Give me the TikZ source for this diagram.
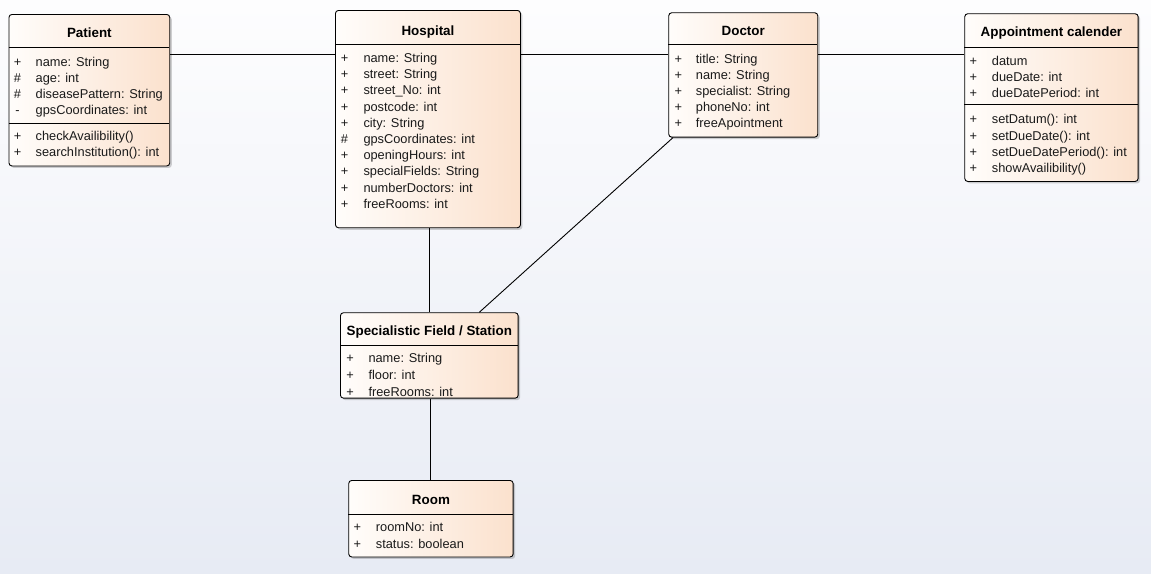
\documentclass[tikz,border=0pt]{standalone}
\usepackage{fontspec}
\setmainfont{Liberation Sans}
\usetikzlibrary{shadows}

\definecolor{bgtop}{HTML}{FDFDFE}
\definecolor{bgbot}{HTML}{E7EBF4}
\definecolor{peach}{HTML}{FBE1CD}
\definecolor{peachlight}{HTML}{FFFDFB}
\definecolor{ink}{HTML}{1A1A1A}

\tikzset{
  classbox/.style={draw=black, line width=0.9pt, rounded corners=3pt,
    left color=peachlight, right color=peach, inner sep=0pt, anchor=north west,
    drop shadow={shadow xshift=2pt, shadow yshift=-2pt, opacity=0.3, fill=black!60}},
  classtitle/.style={font=\fontsize{13.4}{15}\selectfont\bfseries, text=black, anchor=base, inner sep=0pt},
  visib/.style={font=\fontsize{12.8}{15}\selectfont, text=ink, anchor=base, inner sep=0pt, yshift=-0.6pt},
  member/.style={font=\fontsize{12.8}{15}\selectfont, text=ink, anchor=base west, inner sep=0pt, yshift=-0.6pt},
  compartment/.style={line width=0.9pt, draw=black},
  assoc/.style={line width=0.9pt, draw=black},
}

% one attribute or operation line: name, visibility x, text x, baseline, visibility, text
\newcommand{\classmember}[6]{%
  \node[visib] (#1-v) at (#2,#4) {#5};
  \node[member] (#1) at (#3,#4) {#6};}

\begin{document}
\begin{tikzpicture}[x=1pt,y=-1pt]
  % background
  \shade[top color=bgtop, bottom color=bgbot] (0,0) rectangle (1151,573);
  \useasboundingbox (0,0) rectangle (1151,573);

  % ---------- Patient ----------
  \node[classbox, minimum width=160.8pt, minimum height=151.5pt] (patient) at (8.5,14) {};
  \node[classtitle] (patient-title) at (patient.north |- 0,37.5) {Patient};
  \draw[compartment] (8.5,47.7) -- (169.3,47.7);
  \draw[compartment] (8.5,123.3) -- (169.3,123.3);
  \classmember{pa1}{17.5}{35.5}{65.7}{+}{name: String}
  \classmember{pa2}{17.5}{35.5}{81.7}{\#}{age: int}
  \classmember{pa3}{17.5}{35.5}{97.6}{\#}{diseasePattern: String}
  \classmember{pa4}{17.5}{35.5}{113.6}{-}{gpsCoordinates: int}
  \classmember{pm1}{17.5}{35.5}{140}{+}{checkAvailibility()}
  \classmember{pm2}{17.5}{35.5}{156}{+}{searchInstitution(): int}

  % ---------- Hospital ----------
  \node[classbox, minimum width=185pt, minimum height=217.3pt] (hospital) at (335,10) {};
  \node[classtitle] (hospital-title) at (hospital.north |- 0,35) {Hospital};
  \draw[compartment] (335,44.3) -- (520,44.3);
  \classmember{ha1}{344.5}{363.3}{61.7}{+}{name: String}
  \classmember{ha2}{344.5}{363.3}{77.9}{+}{street: String}
  \classmember{ha3}{344.5}{363.3}{94.1}{+}{street\_No: int}
  \classmember{ha4}{344.5}{363.3}{110.4}{+}{postcode: int}
  \classmember{ha5}{344.5}{363.3}{126.6}{+}{city: String}
  \classmember{ha6}{344.5}{363.3}{142.8}{\#}{gpsCoordinates: int}
  \classmember{ha7}{344.5}{363.3}{159.0}{+}{openingHours: int}
  \classmember{ha8}{344.5}{363.3}{175.2}{+}{specialFields: String}
  \classmember{ha9}{344.5}{363.3}{191.5}{+}{numberDoctors: int}
  \classmember{ha10}{344.5}{363.3}{207.7}{+}{freeRooms: int}

  % ---------- Doctor ----------
  \node[classbox, minimum width=149pt, minimum height=124.4pt] (doctor) at (668.3,12.3) {};
  \node[classtitle] (doctor-title) at (doctor.north |- 0,35.7) {Doctor};
  \draw[compartment] (668.3,44.3) -- (817.3,44.3);
  \classmember{da1}{678.3}{695.7}{62.4}{+}{title: String}
  \classmember{da2}{678.3}{695.7}{78.5}{+}{name: String}
  \classmember{da3}{678.3}{695.7}{94.6}{+}{specialist: String}
  \classmember{da4}{678.3}{695.7}{110.6}{+}{phoneNo: int}
  \classmember{da5}{678.3}{695.7}{126.7}{+}{freeApointment}

  % ---------- Appointment calender ----------
  \node[classbox, minimum width=173.4pt, minimum height=167.7pt] (calendar) at (964.3,13.3) {};
  \node[classtitle] (calendar-title) at (calendar.north |- 0,36.7) {Appointment calender};
  \draw[compartment] (964.3,47.7) -- (1137.7,47.7);
  \draw[compartment] (964.3,104) -- (1137.7,104);
  \classmember{ca1}{973.3}{991.7}{65}{+}{datum}
  \classmember{ca2}{973.3}{991.7}{81.1}{+}{dueDate: int}
  \classmember{ca3}{973.3}{991.7}{97.3}{+}{dueDatePeriod: int}
  \classmember{cm1}{973.3}{991.7}{123.3}{+}{setDatum(): int}
  \classmember{cm2}{973.3}{991.7}{139.5}{+}{setDueDate(): int}
  \classmember{cm3}{973.3}{991.7}{155.6}{+}{setDueDatePeriod(): int}
  \classmember{cm4}{973.3}{991.7}{171.7}{+}{showAvailibility()}

  % ---------- Specialistic Field / Station ----------
  \node[classbox, minimum width=177.7pt, minimum height=85.4pt] (station) at (340,312.3) {};
  \node[classtitle] (station-title) at (station.north |- 0,335) {Specialistic Field / Station};
  \draw[compartment] (340,345) -- (517.7,345);
  \classmember{sa1}{350}{368.3}{362.3}{+}{name: String}
  \classmember{sa2}{350}{368.3}{379}{+}{floor: int}
  \classmember{sa3}{350}{368.3}{395.7}{+}{freeRooms: int}

  % ---------- Room ----------
  \node[classbox, minimum width=164.4pt, minimum height=76.5pt] (room) at (348.3,480) {};
  \node[classtitle] (room-title) at (room.north |- 0,504.3) {Room};
  \draw[compartment] (348.3,514.3) -- (512.7,514.3);
  \classmember{ra1}{357.3}{375.7}{530.7}{+}{roomNo: int}
  \classmember{ra2}{357.3}{375.7}{547.7}{+}{status: boolean}

  % ---------- associations ----------
  \draw[assoc] (patient.east |- 0,54) -- (hospital.west |- 0,54);
  \draw[assoc] (hospital.east |- 0,54) -- (doctor.west |- 0,54);
  \draw[assoc] (doctor.east |- 0,54) -- (calendar.west |- 0,54);
  \draw[assoc] (hospital.south -| 429,0) -- (station.north -| 429,0);
  \draw[assoc] ([xshift=4.7pt]doctor.south west) -- ([xshift=50pt]station.north);
  \draw[assoc] (station.south -| 430,0) -- (room.north -| 430,0);
\end{tikzpicture}
\end{document}
